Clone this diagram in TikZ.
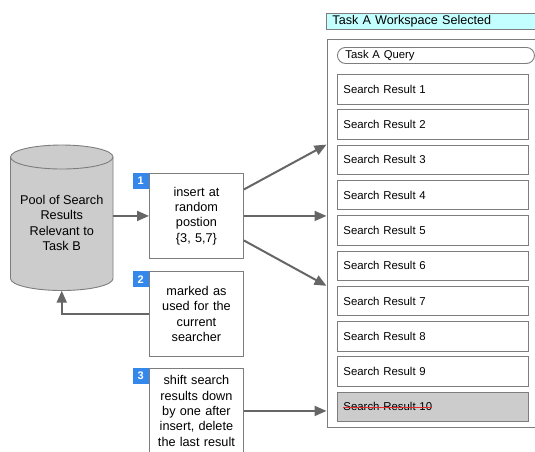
\documentclass[tikz,border=0pt]{standalone}
\usepackage{fontspec}
\setmainfont{Liberation Sans}
\usetikzlibrary{arrows.meta,calc}
\definecolor{linegray}{RGB}{125,125,125}
\definecolor{arrgray}{RGB}{102,102,102}
\definecolor{cylfill}{RGB}{204,204,204}
\definecolor{hdrfill}{RGB}{196,255,255}
\definecolor{badgeblue}{RGB}{52,136,235}
\definecolor{strikered}{RGB}{225,45,45}
\begin{document}
\begin{tikzpicture}[x=1pt,y=1pt,
  stepbox/.style={draw=linegray, line width=0.9pt, fill=white, minimum width=94pt, minimum height=85pt, text width=88pt, align=center, inner sep=0pt, font=\fontsize{12.7}{15.3}\selectfont, anchor=north west},
  badge/.style={fill=badgeblue, text=white, font=\bfseries\fontsize{11}{11}\selectfont, minimum size=16pt, inner sep=0pt, anchor=north east},
  result/.style={draw=linegray, line width=0.9pt, fill=white, minimum height=29.5pt, text width=179pt, inner xsep=6pt, inner ysep=0pt, align=left, anchor=north west, font=\fontsize{11.4}{13}\selectfont},
  conn/.style={draw=arrgray, line width=2pt, -{Triangle[length=12pt,width=10pt]}},
]
\useasboundingbox (0,0) rectangle (535,-451);
\clip (0,0) rectangle (535,-451);

% header bar
\node[draw=linegray, fill=hdrfill, line width=0.9pt, anchor=north west, minimum width=240pt, minimum height=16.5pt, inner xsep=6pt, inner ysep=0pt, text width=228pt, align=left, font=\fontsize{12.6}{14}\selectfont] (hdr) at (326,-12.5) {Task A Workspace Selected};

% outer workspace frame
\node[draw=linegray, line width=0.9pt, anchor=north west, minimum width=240pt, minimum height=388pt, inner sep=0pt] (outer) at (326.5,-39) {};

% query pill
\node[draw=linegray, line width=0.9pt, rounded corners=8pt, fill=white, anchor=north west, minimum width=197pt, minimum height=16pt, inner xsep=8pt, inner ysep=0pt, text width=181pt, align=left, font=\fontsize{11.3}{13}\selectfont] (query) at (337,-47) {Task A Query};

% search results
\foreach \i in {1,...,9} {
  \node[result] (sr\i) at (337,{-74-(\i-1)*35.3}) {Search Result \i};
}
\node[result, fill=cylfill] (sr10) at (337,{-74-9*35.3}) {Search Result 10};
\draw[strikered, line width=0.7pt] ([xshift=6pt,yshift=-0.5pt]sr10.west) -- ++(89,0);

% cylinder
\fill[cylfill] (10.5,-157) -- (10.5,-278.5) arc[start angle=180,end angle=360,x radius=51.25pt,y radius=12pt] -- (113,-157) arc[start angle=0,end angle=180,x radius=51.25pt,y radius=12pt] -- cycle;
\draw[linegray, line width=0.9pt] (10.5,-157) -- (10.5,-278.5) arc[start angle=180,end angle=360,x radius=51.25pt,y radius=12pt] -- (113,-157) arc[start angle=0,end angle=180,x radius=51.25pt,y radius=12pt] -- cycle;
\draw[linegray, line width=0.9pt] (10.5,-157) arc[start angle=180,end angle=360,x radius=51.25pt,y radius=12pt];
\node[minimum width=102.5pt, minimum height=145.5pt, inner sep=0pt] (pool) at (61.75,-217.75) {};
\node[align=center, inner sep=0pt, font=\fontsize{12.7}{15.5}\selectfont] (pooltext) at (61.75,-223) {Pool of Search\\Results\\Relevant to\\Task B};

% step boxes
\node[stepbox] (box1) at (149,-173) {insert at\\random\\postion\\\{3, 5,7\}};
\node[stepbox] (box2) at (149,-271) {marked as\\used for the\\current\\searcher};
\node[stepbox] (box3) at (149,-368) {shift search\\results down\\by one after\\insert, delete\\the last result};
\node[badge] (b1) at (box1.north west) {1};
\node[badge] (b2) at (box2.north west) {2};
\node[badge] (b3) at (box3.north west) {3};

% connectors
\draw[conn] (pool.east |- box1.west) -- (box1.west);
\draw[conn] (box2.west) -- (pool.south |- box2.west) -- (pool.south);
\draw[conn] ([yshift=26.5pt]box1.east) -- (outer.west |- sr3.north);
\draw[conn] (box1.east) -- (box1.east -| outer.west);
\draw[conn] ([yshift=-24.5pt]box1.east) -- (outer.west |- sr7.north);
\draw[conn] (box3.east) -- (box3.east -| outer.west);
\end{tikzpicture}
\end{document}
